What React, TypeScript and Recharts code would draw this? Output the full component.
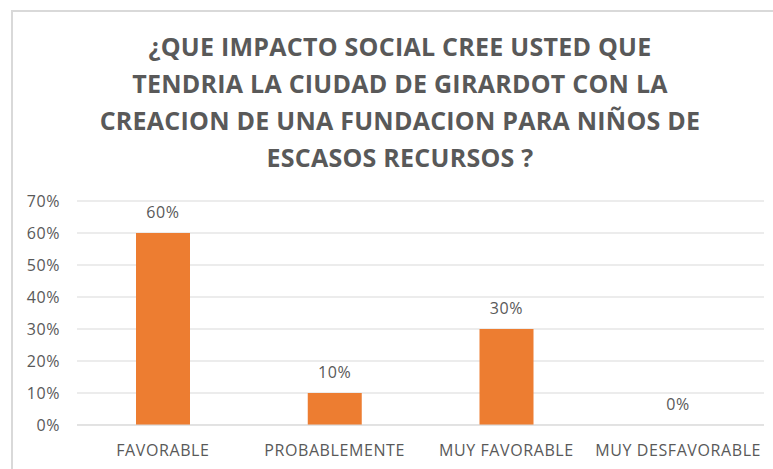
import { Bar, CartesianGrid, ComposedChart, Line, XAxis, YAxis } from 'recharts';

const categories = ['FAVORABLE', 'PROBABLEMENTE', 'MUY FAVORABLE', 'MUY DESFAVORABLE'];
const percentages = [60, 10, 30, 0];
const yTicks = [0, 10, 20, 30, 40, 50, 60, 70];
const titleLines = [
  '¿QUE IMPACTO SOCIAL CREE USTED QUE',
  'TENDRIA LA CIUDAD DE GIRARDOT CON LA',
  'CREACION DE UNA FUNDACION PARA NIÑOS DE',
  'ESCASOS RECURSOS ?',
];

const data = categories.map((name, i) => ({ name, value: percentages[i] }));

const FONT = '"Open Sans", sans-serif';
const TEXT = '#595959';
const tickStyle = { fill: TEXT, fontSize: 16, fontFamily: FONT, letterSpacing: 0.6 };

export default function App() {
  return (
    <div
      style={{
        position: 'absolute',
        left: 0,
        top: 0,
        width: 773,
        height: 469,
        overflow: 'hidden',
        background: '#fff',
        fontFamily: FONT,
      }}
    >
      {/* chart frame, runs off the right/bottom edge */}
      <div
        style={{
          position: 'absolute',
          left: 11,
          top: 10,
          width: 778,
          height: 480,
          border: '2px solid #d9d9d9',
          boxSizing: 'border-box',
        }}
      />
      <div
        style={{
          position: 'absolute',
          left: 0,
          top: 28,
          width: 800,
          textAlign: 'center',
          color: TEXT,
          fontWeight: 700,
          fontSize: 25,
          lineHeight: '37px',
          letterSpacing: 0.25,
        }}
      >
        {titleLines.map((l) => (
          <div key={l}>{l}</div>
        ))}
      </div>
      <div style={{ position: 'absolute', left: 0, top: 0 }}>
        <ComposedChart
          width={773}
          height={469}
          data={data}
          margin={{ top: 201, right: 9, bottom: 0, left: 0 }}
        >
          <CartesianGrid vertical={false} stroke="#d9d9d9" />
          <XAxis
            dataKey="name"
            height={44}
            axisLine={{ stroke: '#d9d9d9' }}
            tickLine={false}
            tickSize={0}
            tickMargin={20}
            interval={0}
            tick={tickStyle}
          />
          <YAxis
            width={77}
            domain={[0, 70]}
            ticks={yTicks}
            tickFormatter={(v) => `${v}%`}
            axisLine={false}
            tickLine={false}
            tickSize={0}
            tickMargin={17}
            tick={tickStyle}
          />
          <Bar dataKey="value" fill="#ED7D31" barSize={54} isAnimationActive={false} />
          {/* invisible series carrying the data labels, so the 0% one shows too */}
          <Line
            dataKey="value"
            stroke="none"
            dot={false}
            activeDot={false}
            isAnimationActive={false}
            label={{
              position: 'top',
              offset: 15,
              formatter: (v: number) => `${v}%`,
              fill: TEXT,
              fontSize: 16,
              fontFamily: FONT,
              letterSpacing: 0.6,
            }}
          />
        </ComposedChart>
      </div>
    </div>
  );
}
